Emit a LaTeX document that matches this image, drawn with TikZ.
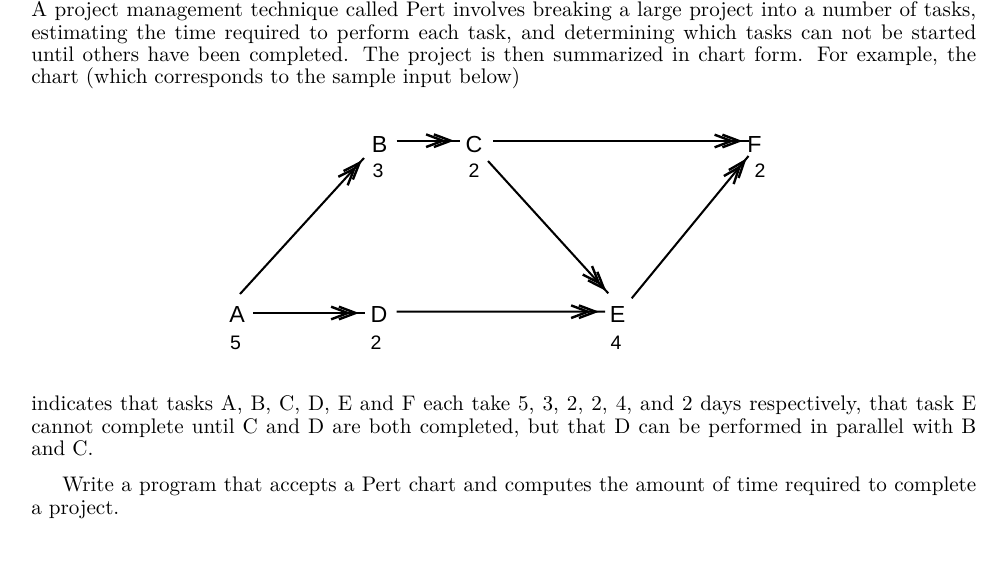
\documentclass[tikz,border=0pt]{standalone}
\usepackage{fontspec}
\newfontfamily\diagfont{Liberation Sans}
\newfontfamily\bodyfont{lmroman10-regular.otf}
\usetikzlibrary{arrows.meta,decorations.markings,calc}
\newcommand\jline[2]{\makebox[#1][s]{#2}}
\tikzset{
  txt/.style={inner sep=0pt, anchor=base west, font=\bodyfont\fontsize{11.35}{12}\selectfont},
  lab/.style={font=\diagfont\fontsize{12.5}{12.5}\selectfont, inner sep=0pt, text height=8.95pt, text depth=0pt},
  num/.style={font=\diagfont\fontsize{10.5}{10.5}\selectfont, inner sep=0pt, text height=7.5pt, text depth=0pt},
  barb/.tip={Straight Barb[length=9pt,width=6.8pt,line width=1.3pt]},
  edge/.style={line width=1.1pt, postaction={decorate},
    decoration={markings,
      mark=at position -#1-4.2pt with {\arrow{barb}},
      mark=at position -#1 with {\arrow{barb}}}},
  edge/.default=3.2pt
}
\begin{document}
\begin{tikzpicture}[x=0.538pt,y=-0.538pt]
\fill[white] (0,0) rectangle (1006,566);
\useasboundingbox (0,0) rectangle (1006,566);
% text
\node[txt] (l1) at (31,16.7) {\jline{508.4pt}{A project management technique called Pert involves breaking a large project into a number of tasks,}};
\node[txt] (l2) at (31,39.0) {\jline{508.4pt}{estimating the time required to perform each task, and determining which tasks can not be started}};
\node[txt] (l3) at (31,61.3) {\jline{508.4pt}{until others have been completed.  The project is then summarized in chart form.  For example, the}};
\node[txt] (l4) at (31,83.6) {chart (which corresponds to the sample input below)};
\node[txt] (l5) at (31,410.7) {\jline{508.4pt}{indicates that tasks A, B, C, D, E and F each take 5, 3, 2, 2, 4, and 2 days respectively, that task E}};
\node[txt] (l6) at (31,433.0) {\jline{508.4pt}{cannot complete until C and D are both completed, but that D can be performed in parallel with B}};
\node[txt] (l7) at (31,455.3) {and C.};
\node[txt] (l8) at (62,491.7) {\jline{491.7pt}{Write a program that accepts a Pert chart and computes the amount of time required to complete}};
\node[txt] (l9) at (31,514.0) {a project.};
% diagram nodes
\node[lab] (A) at (237,313.7) {A};
\node[lab] (B) at (379.5,143.7) {B};
\node[lab] (C) at (474,143.7) {C};
\node[lab] (D) at (379,313.7) {D};
\node[lab] (E) at (617.5,314) {E};
\node[lab] (F) at (754.5,143.7) {F};
\node[num] (nA) at (235.5,343) {5};
\node[num] (nB) at (378,171) {3};
\node[num] (nC) at (474,171) {2};
\node[num] (nD) at (376,343) {2};
\node[num] (nE) at (616,343) {4};
\node[num] (nF) at (760,171) {2};
% connectors
\draw[edge] ($(B)+(17.2,-3)$) -- ($(C)+(-14,-3)$);
\draw[edge] ($(C)+(19,-2.7)$) -- ($(F)+(-6,-2.7)$);
\draw[edge] ($(A)+(16.3,-0.7)$) -- ($(D)+(-14,-0.7)$);
\draw[edge] ($(D)+(17.7,-2)$) -- ($(E)+(-12.5,-2.3)$);
\draw[edge=1.5pt] ($(A)+(3,-19.7)$) -- ($(B)+(-15.5,14.3)$);
\draw[edge=1.5pt] ($(C)+(14,17.3)$) -- ($(E)+(-9.2,-20.7)$);
\draw[edge=1.5pt] ($(E)+(14.2,-15.7)$) -- ($(F)+(-6,12.3)$);
\end{tikzpicture}
\end{document}
